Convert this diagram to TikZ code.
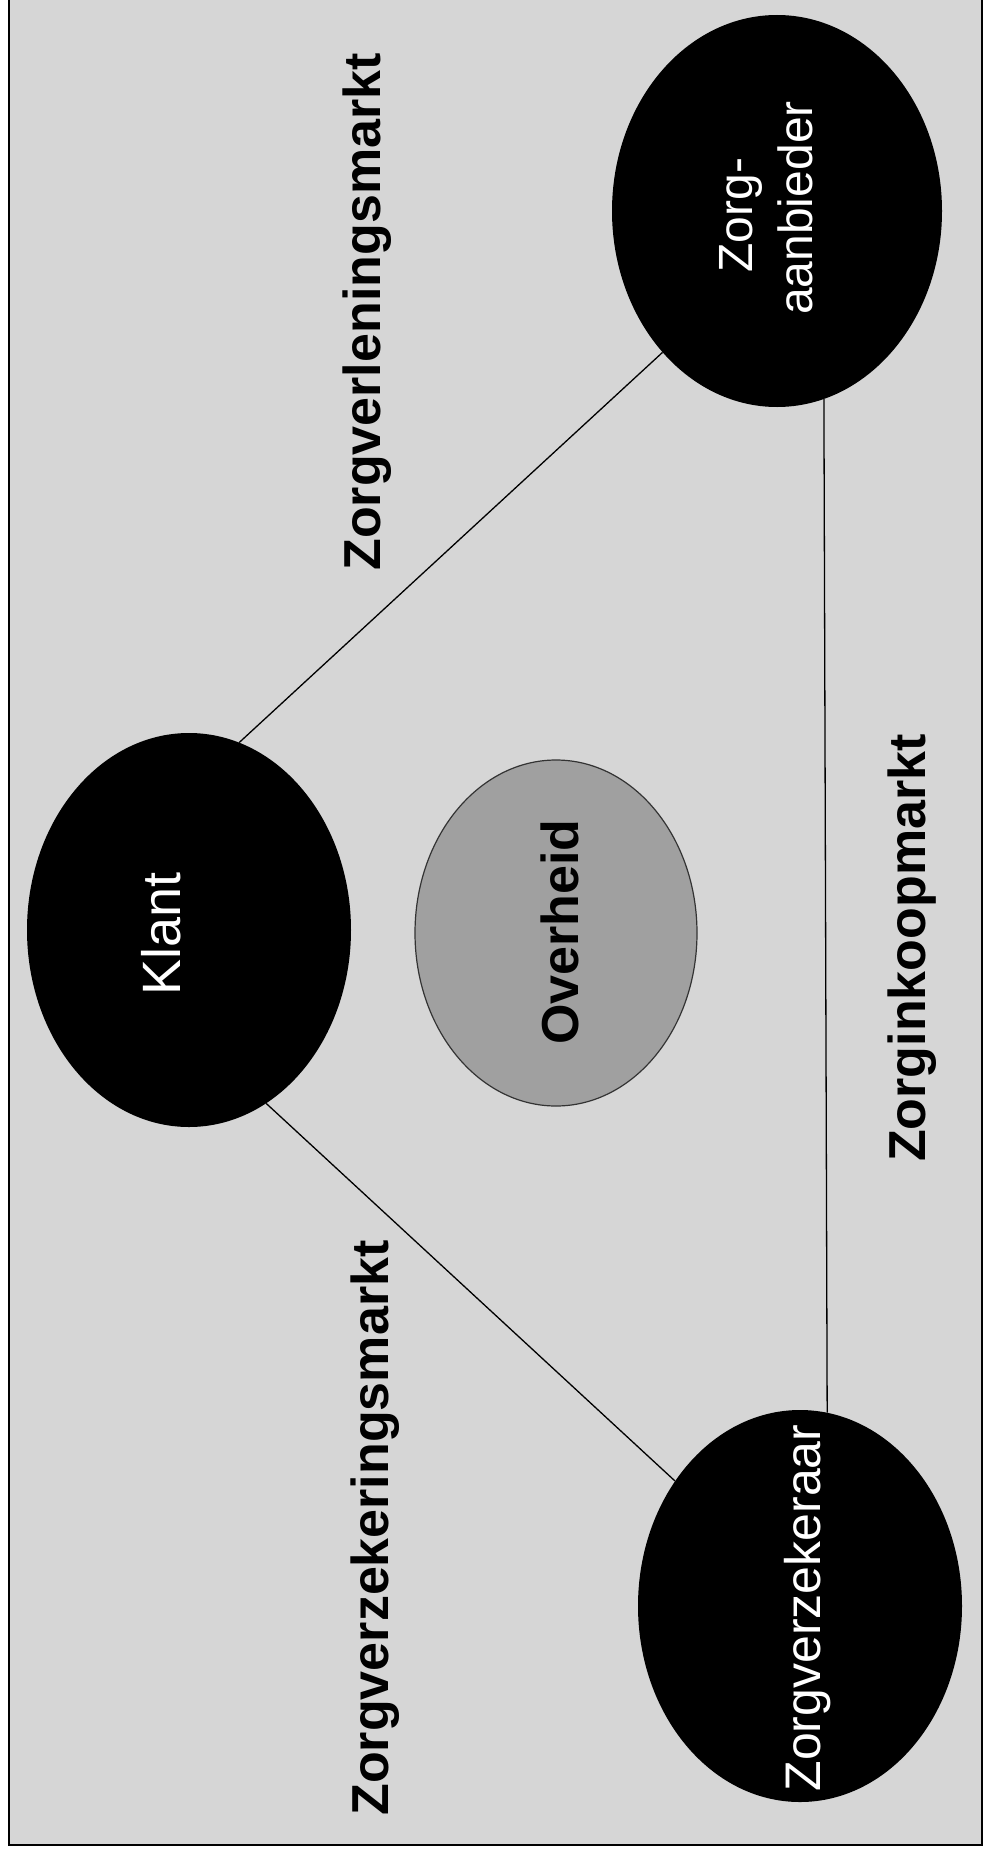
\documentclass[tikz,border=0pt]{standalone}
\usepackage{fontspec}
\setmainfont{Liberation Sans}
\usetikzlibrary{shapes.geometric}
\definecolor{bgcol}{RGB}{214,214,214}
\definecolor{govcol}{RGB}{160,160,160}
\tikzset{
  actor/.style={ellipse, fill=black, draw=none, inner sep=0pt},
  gov/.style={ellipse, fill=govcol, draw=black!80, line width=1.2pt, inner sep=0pt},
  wlabel/.style={rotate=90, anchor=base, inner sep=0pt, text=white},
  mlabel/.style={rotate=90, anchor=base, inner sep=0pt, text=black, font=\bfseries\fontsize{52}{60}\selectfont},
  link/.style={draw=black, line width=1.3pt}
}
\begin{document}
\begin{tikzpicture}[x=1pt,y=-1pt]
\useasboundingbox (0,0) rectangle (985,1857);
\fill[white] (0,0) rectangle (985,1857);
\fill[bgcol] (9,0) rectangle (982,1845);
\draw[line width=1.6pt] (9,0) -- (9,1845) -- (982,1845) -- (982,0);

% actors
\node[actor, minimum width=330pt, minimum height=392pt] (aanbieder) at (777,211) {};
\node[actor, minimum width=324pt, minimum height=394pt] (klant) at (189,930) {};
\node[actor, minimum width=324pt, minimum height=392pt] (verzekeraar) at (800,1606) {};
\node[gov, minimum width=282pt, minimum height=346pt] (overheid) at (556,933) {};

% connectors
\draw[link] (klant.75.5) -- (aanbieder.231.4);
\draw[link] (klant.294.8) -- (verzekeraar.135.9);
\draw[link] (aanbieder.284) -- (verzekeraar.82.9);

% texts in ellipses
\node[wlabel, font=\fontsize{54}{60}\selectfont] (klanttxt) at (180,934) {Klant};
\node[wlabel, font=\fontsize{48}{56}\selectfont] (zorgtxt) at (752,215) {Zorg-};
\node[wlabel, font=\fontsize{48}{56}\selectfont] (aanbiedertxt) at (812,208) {aanbieder};
\node[wlabel, font=\fontsize{50}{58}\selectfont] (verzekeraartxt) at (820,1608) {Zorgverzekeraar};
\node[rotate=90, anchor=base, inner sep=0pt, font=\bfseries\fontsize{52}{60}\selectfont] (overheidtxt) at (578,932) {Overheid};

% market labels
\node[mlabel] (verlening) at (380,312) {Zorgverleningsmarkt};
\node[mlabel] (inkoop) at (925,948) {Zorginkoopmarkt};
\node[mlabel] (verzekering) at (388,1528) {Zorgverzekeringsmarkt};
\end{tikzpicture}
\end{document}
